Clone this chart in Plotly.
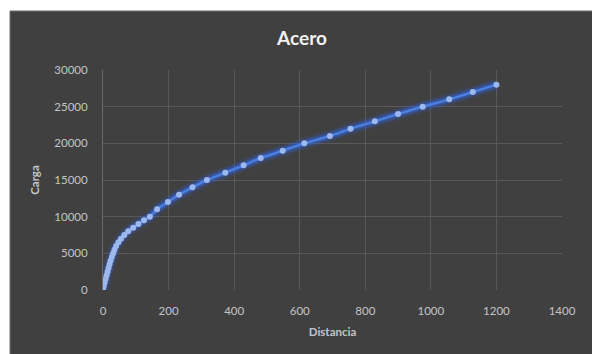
import plotly.graph_objects as go

# Load-displacement readings for the steel specimen
distancia = [0, 2, 5, 8, 11, 14, 17, 20, 23, 27, 31, 35, 40, 47, 55, 65, 77, 92, 108, 125,
             143, 165, 198, 232, 273, 317, 373, 429, 481, 548, 614, 692, 755, 829, 900,
             975, 1056, 1128, 1200]
carga = [0, 500, 1000, 1500, 2000, 2500, 3000, 3500, 4000, 4500, 5000, 5500, 6000, 6500,
         7000, 7500, 8000, 8500, 9000, 9500, 10000, 11000, 12000, 13000, 14000, 15000,
         16000, 17000, 18000, 19000, 20000, 21000, 22000, 23000, 24000, 25000, 26000,
         27000, 28000]

x_ticks = [0, 200, 400, 600, 800, 1000, 1200, 1400]
y_ticks = [0, 5000, 10000, 15000, 20000, 25000, 30000]

W, H = 592, 354
ML, MR, MT, MB = 103, 30, 70, 64
pw, ph = W - ML - MR, H - MT - MB

BG = "#404040"
GRID = "#595959"
TXT = "#c4c4c4"
FONT = "Lato, 'Open Sans', sans-serif"

fig = go.Figure()

# soft glow under the series line
for w, a in [(12, 0.12), (8.5, 0.2), (6, 0.35)]:
    fig.add_trace(go.Scatter(
        x=distancia, y=carga, mode="lines",
        line=dict(color=f"rgba(50,100,230,{a})", width=w, shape="spline", smoothing=0.6),
        hoverinfo="skip", showlegend=False,
    ))

fig.add_trace(go.Scatter(
    x=distancia, y=carga, mode="lines+markers",
    line=dict(color="#4a7fe0", width=2.5, shape="spline", smoothing=0.6),
    marker=dict(size=6, color="#9db8ec", line=dict(width=0)),
    showlegend=False,
))

# dark chart panel inside the white page border
px0 = (10 - ML) / pw
py1 = (H - MB - 11) / ph
fig.add_shape(type="rect", xref="paper", yref="paper",
              x0=px0, x1=(W + 20 - ML) / pw, y0=-(MB + 20) / ph, y1=py1,
              fillcolor=BG, line=dict(color="#6e6e6e", width=1), layer="below")

fig.update_layout(
    width=W, height=H,
    margin=dict(l=ML, r=MR, t=MT, b=MB),
    paper_bgcolor="white",
    plot_bgcolor=BG,
    font=dict(family=FONT, color=TXT, size=11),
    title=dict(text="<b>Acero</b>", x=(302 - ML) / pw, xref="paper", xanchor="center",
               y=1 - 38 / H, yanchor="middle",
               font=dict(size=19, color="#f2f2f2", family=FONT)),
    xaxis=dict(
        range=[0, 1400], tickvals=x_ticks, ticktext=[str(v) for v in x_ticks],
        showgrid=True, gridcolor=GRID, gridwidth=1,
        zeroline=False, showline=False,
        ticks="", ticklabelstandoff=12,
        tickfont=dict(size=11.5, color=TXT),
        title=dict(text="<b>Distancia</b>", standoff=12, font=dict(size=11.5, color=TXT)),
    ),
    yaxis=dict(
        range=[0, 30000], tickvals=y_ticks, ticktext=[str(v) for v in y_ticks],
        showgrid=True, gridcolor=GRID, gridwidth=1,
        zeroline=False, showline=True, linecolor="#6a6a6a", linewidth=1,
        ticks="", ticklabelstandoff=12,
        tickfont=dict(size=11.5, color=TXT),
        title=dict(text="<b>Carga</b>", standoff=12, font=dict(size=11.5, color=TXT)),
    ),
)

fig.write_html("out.html")
